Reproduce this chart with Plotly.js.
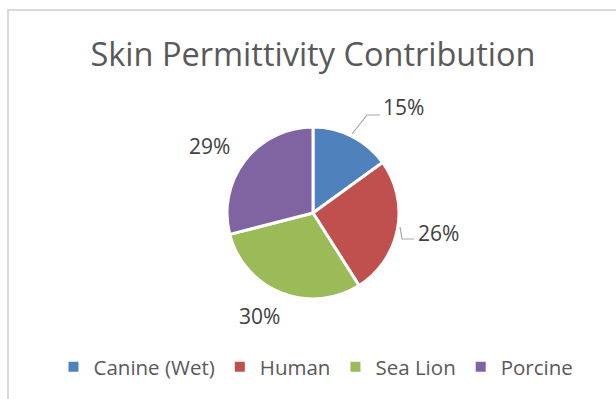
<!DOCTYPE html>
<html>
<head>
<meta charset="utf-8">
<script src="https://cdn.plot.ly/plotly-3.0.1.min.js"></script>
<style>
  html, body { margin: 0; padding: 0; background: #ffffff; }
  #wrap { position: relative; width: 616px; height: 399px; overflow: hidden; }
  #frame { position: absolute; left: 7px; top: 9px; width: 700px; height: 500px; border-left: 2px solid #d9d9d9; border-top: 2px solid #d9d9d9; }
  #chart { position: absolute; left: 0; top: 0; width: 616px; height: 399px; }
</style>
</head>
<body>
<div id="wrap">
  <div id="frame"></div>
  <div id="chart"></div>
</div>
<script>
const categories = ["Canine (Wet)", "Human", "Sea Lion", "Porcine"];
const values = [15, 26, 30, 29];
const colors = ["#4F81BD", "#C0504D", "#9BBB59", "#8064A2"];

const W = 616, H = 399;
const px = x => x / W;
const py = y => 1 - y / H;

const total = values.reduce((a, b) => a + b, 0);
const pctText = values.map(v => Math.round(v / total * 100) + "%");

// label positions (pixels) for each slice, in category order
const labelPos = [[403, 107], [438, 233], [259, 316], [210, 146]];

const annotations = pctText.map((t, i) => ({
  text: t, x: px(labelPos[i][0]), y: py(labelPos[i][1]),
  xref: "paper", yref: "paper", showarrow: false,
  xanchor: "center", yanchor: "middle",
  font: { family: "Open Sans", size: 21, color: "#404040" }
}));

const leader = (pts) => ({
  type: "path", xref: "paper", yref: "paper",
  path: pts.map((p, i) => (i ? "L" : "M") + px(p[0]) + "," + py(p[1])).join(" "),
  line: { color: "#a6a6a6", width: 1.2 }
});

const shapes = [
  leader([[352, 134], [367, 115], [380, 115]]),
  leader([[400, 227], [402, 239], [414, 239]])
];

const r = 86, cx = 313, cy = 213;

const data = [{
  type: "pie",
  labels: categories,
  values: values,
  sort: false,
  direction: "clockwise",
  rotation: 0,
  textinfo: "none",
  hoverinfo: "label+percent",
  marker: { colors: colors, line: { color: "#ffffff", width: 3 } },
  domain: { x: [px(cx - r), px(cx + r)], y: [py(cy + r), py(cy - r)] }
}];

const layout = {
  width: W, height: H,
  margin: { l: 0, r: 0, t: 0, b: 0 },
  paper_bgcolor: "rgba(0,0,0,0)",
  plot_bgcolor: "rgba(0,0,0,0)",
  title: {
    text: "Skin Permittivity Contribution",
    x: px(313), xanchor: "center",
    y: py(55), yanchor: "middle",
    font: { family: "Open Sans", size: 32.5, color: "#595959" }
  },
  showlegend: true,
  legend: {
    orientation: "h",
    x: px(316), xanchor: "center",
    y: py(367), yanchor: "middle",
    font: { family: "Open Sans", size: 20.5, color: "#595959" },
    itemsizing: "constant"
  },
  annotations: annotations,
  shapes: shapes
};

Plotly.newPlot("chart", data, layout, { displayModeBar: false, staticPlot: true });
</script>
</body>
</html>
